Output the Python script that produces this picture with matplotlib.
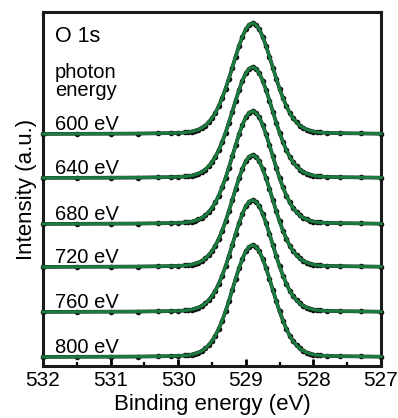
import matplotlib
matplotlib.use("Agg")
import matplotlib.pyplot as plt
from matplotlib.ticker import MultipleLocator

plt.rcParams['font.family'] = ['Liberation Sans', 'DejaVu Sans']

# Binding energy grid (eV) and normalized O 1s profile
binding_energy = [532.0, 531.5, 531.0, 530.6, 530.3, 530.1, 530.0,
                  529.90, 529.85, 529.80, 529.75, 529.70, 529.65, 529.60, 529.55,
                  529.50, 529.45, 529.40, 529.35, 529.30, 529.25, 529.20, 529.15,
                  529.10, 529.05, 529.00, 528.95, 528.90, 528.85, 528.80, 528.75,
                  528.70, 528.65, 528.60, 528.55, 528.50, 528.45, 528.40, 528.35,
                  528.30, 528.25, 528.20, 528.15, 528.10, 528.05, 528.00, 527.95,
                  527.90, 527.8, 527.6, 527.3, 527.0]
profile = [0.001, 0.002, 0.003, 0.004, 0.006, 0.008, 0.010,
           0.014, 0.017, 0.022, 0.030, 0.040, 0.055, 0.076, 0.105,
           0.142, 0.191, 0.252, 0.324, 0.407, 0.500, 0.599, 0.698,
           0.793, 0.877, 0.943, 0.985, 1.000, 0.985, 0.943, 0.877,
           0.793, 0.698, 0.599, 0.500, 0.407, 0.324, 0.252, 0.191,
           0.142, 0.105, 0.076, 0.055, 0.040, 0.030, 0.022, 0.017,
           0.014, 0.010, 0.007, 0.005, 0.003]

photon_energies = ['600 eV', '640 eV', '680 eV', '720 eV', '760 eV', '800 eV']
offsets = [232, 188, 142, 99, 54, 9]
peak_heights = [111, 111, 113, 112, 112, 112]

fig = plt.figure(figsize=(3.98, 4.18), dpi=100)
ax = fig.add_axes([43/398, 1-366/418, 338/398, 354/418])

green = '#1b7a3e'
for lab, off, h in zip(photon_energies, offsets, peak_heights):
    y = [off + h*p for p in profile]
    ax.plot(binding_energy, y, color='#111111', lw=2.6, marker='o', ms=3.0,
            zorder=3, clip_on=False)
    ax.plot(binding_energy, y, color=green, lw=2.3, zorder=4, clip_on=False)
    ax.text(531.82, off + 4, lab, fontsize=14.5,
            ha='left', va='baseline', zorder=5)

ax.text(531.82, 324, 'O 1s', fontsize=15.5, ha='left', va='baseline')
ax.text(531.82, 288, 'photon', fontsize=14.5, ha='left', va='baseline')
ax.text(531.82, 270, 'energy', fontsize=14.5, ha='left', va='baseline')

ax.set_xlim(532, 527)
ax.set_ylim(0, 354)
ax.xaxis.set_major_locator(MultipleLocator(1))
ax.xaxis.set_minor_locator(MultipleLocator(0.5))
ax.set_yticks([])
ax.tick_params(axis='x', which='major', direction='in', length=5, width=2,
               labelsize=15, pad=3.5, top=False)
ax.tick_params(axis='x', which='minor', direction='in', length=3, width=1.6,
               top=False)
for s in ax.spines.values():
    s.set_linewidth(2.2)
    s.set_color('#1a1a1a')

ax.set_xlabel('Binding energy (eV)', fontsize=16, labelpad=3)
ax.set_ylabel('Intensity (a.u.)', fontsize=16, labelpad=4)

fig.savefig('out.png', dpi=100)
